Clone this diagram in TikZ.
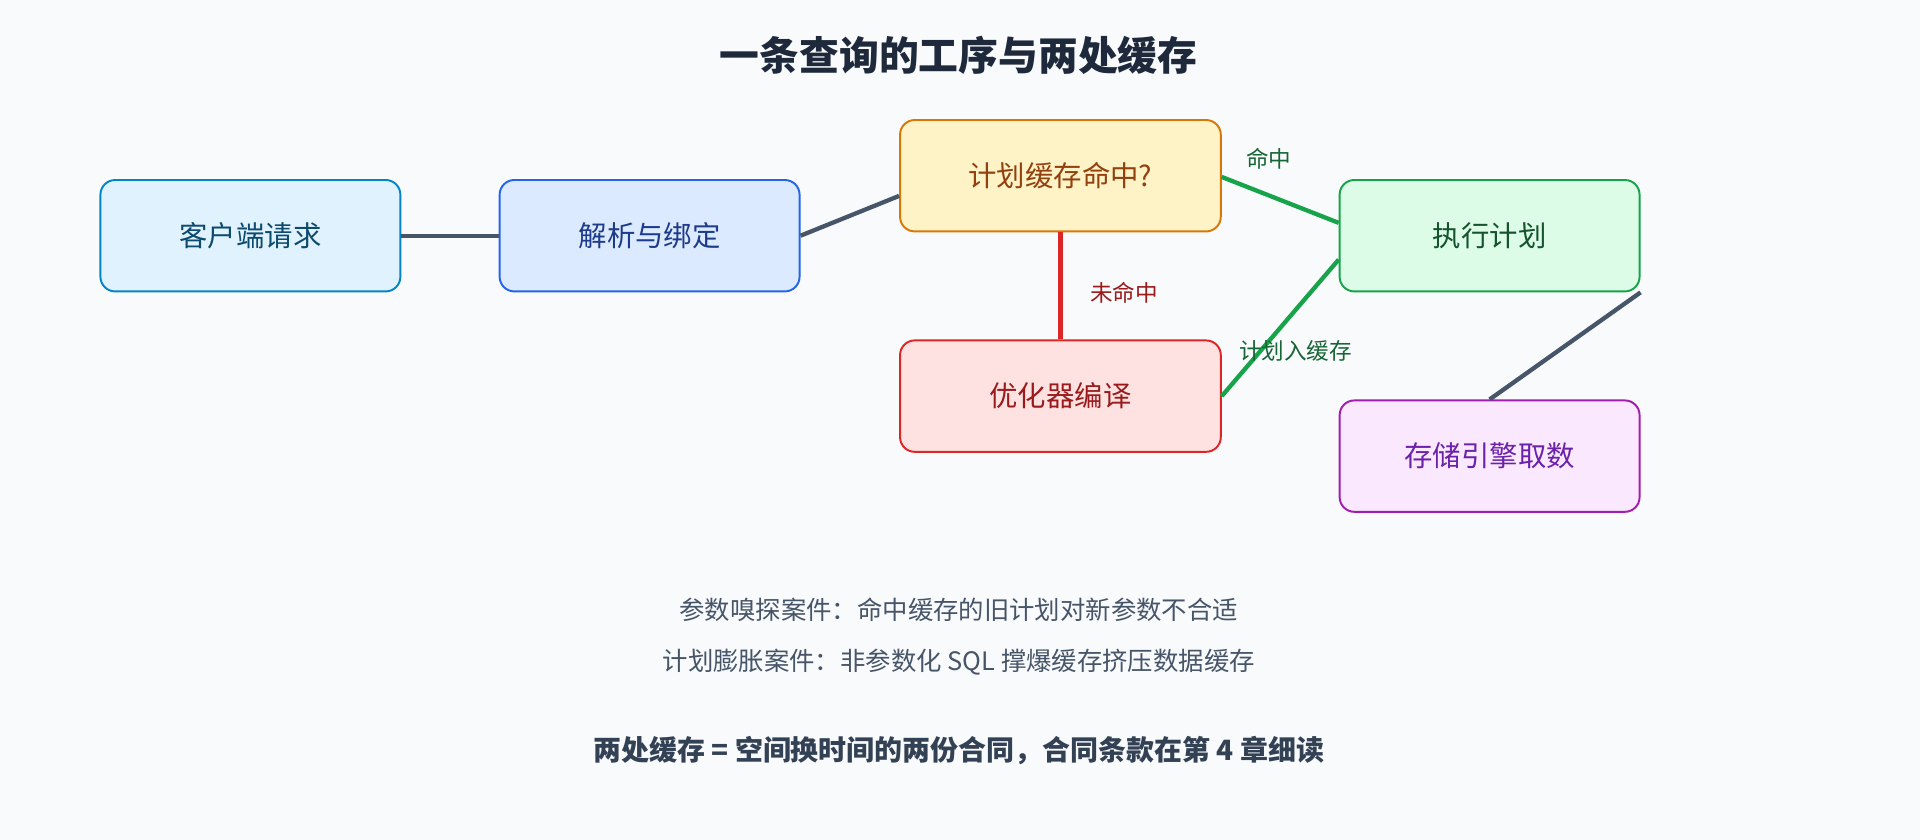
\documentclass[tikz,border=0pt]{standalone}
\usepackage{fontspec}
\setmainfont{Noto Sans CJK SC}
\usetikzlibrary{calc}
\definecolor{bgc}{HTML}{F8FAFC}
\definecolor{slate}{HTML}{475569}
\definecolor{titlec}{HTML}{1E293B}
\definecolor{notec}{HTML}{334155}
\definecolor{cliD}{HTML}{0284C7}\definecolor{cliF}{HTML}{E0F2FE}\definecolor{cliT}{HTML}{0C4A6E}
\definecolor{parD}{HTML}{2563EB}\definecolor{parF}{HTML}{DBEAFE}\definecolor{parT}{HTML}{1E3A8A}
\definecolor{cacD}{HTML}{D97706}\definecolor{cacF}{HTML}{FEF3C7}\definecolor{cacT}{HTML}{92400E}
\definecolor{optD}{HTML}{DC2626}\definecolor{optF}{HTML}{FEE2E2}\definecolor{optT}{HTML}{991B1B}
\definecolor{exeD}{HTML}{16A34A}\definecolor{exeF}{HTML}{DCFCE7}\definecolor{exeT}{HTML}{14532D}
\definecolor{stoD}{HTML}{A21CAF}\definecolor{stoF}{HTML}{FAE8FF}\definecolor{stoT}{HTML}{6B21A8}
\definecolor{hitT}{HTML}{166534}
\begin{document}
\begin{tikzpicture}[x=0.02cm, y=-0.02cm,
  box/.style={draw, rounded corners=0.24cm, line width=0.9pt, minimum width=4.9cm, minimum height=1.82cm, font=\fontsize{13.2}{15}\selectfont},
  wide/.style={minimum width=5.24cm},
  link/.style={line width=2pt, slate},
  lbl/.style={font=\fontsize{10.5}{12}\selectfont}]

\fill[bgc] (0,0) rectangle (1568,686);

\node[font=\bfseries\fontsize{18.5}{20}\selectfont, titlec] (title) at (783,45) {一条查询的工序与两处缓存};

% main flow
\node[box, draw=cliD, fill=cliF, text=cliT] (client) at (204.5,192.5) {客户端请求};
\node[box, draw=parD, fill=parF, text=parT] (parse) at (530.5,192.5) {解析与绑定};
\node[box, wide, draw=cacD, fill=cacF, text=cacT] (cache) at (866,143.5) {计划缓存命中?};
\node[box, wide, draw=optD, fill=optF, text=optT] (optim) at (866,323.5) {优化器编译};
\node[box, draw=exeD, fill=exeF, text=exeT] (exec) at (1216.5,192.5) {执行计划};
\node[box, draw=stoD, fill=stoF, text=stoT] (store) at (1216.5,372.5) {存储引擎取数};

\draw[link] (client.east) -- (parse.west);
\draw[link] (parse.east) -- ([yshift=-0.33cm]cache.west);
\draw[link, exeD] ([yshift=-0.02cm]cache.east) -- ([yshift=0.21cm]exec.west);
\draw[link, optD] (cache.south) -- (optim.north);
\draw[link, exeD] (optim.east) -- ([yshift=-0.39cm]exec.west);
\draw[link] (exec.south east) -- (store.north);

\node[lbl, text=hitT] (hit) at (1036,130) {命中};
\node[lbl, text=optT] (miss) at (918,239) {未命中};
\node[lbl, text=hitT] (save) at (1058,287) {计划入缓存};

% notes
\node[font=\fontsize{11.8}{13}\selectfont, slate] (case1) at (783,498) {参数嗅探案件：命中缓存的旧计划对新参数不合适};
\node[font=\fontsize{11.8}{13}\selectfont, slate] (case2) at (783,541) {计划膨胀案件：非参数化 SQL 撑爆缓存挤压数据缓存};
\node[font=\bfseries\fontsize{13}{15}\selectfont, notec] (sum) at (783,613) {两处缓存 = 空间换时间的两份合同，合同条款在第 4 章细读};
\end{tikzpicture}
\end{document}
